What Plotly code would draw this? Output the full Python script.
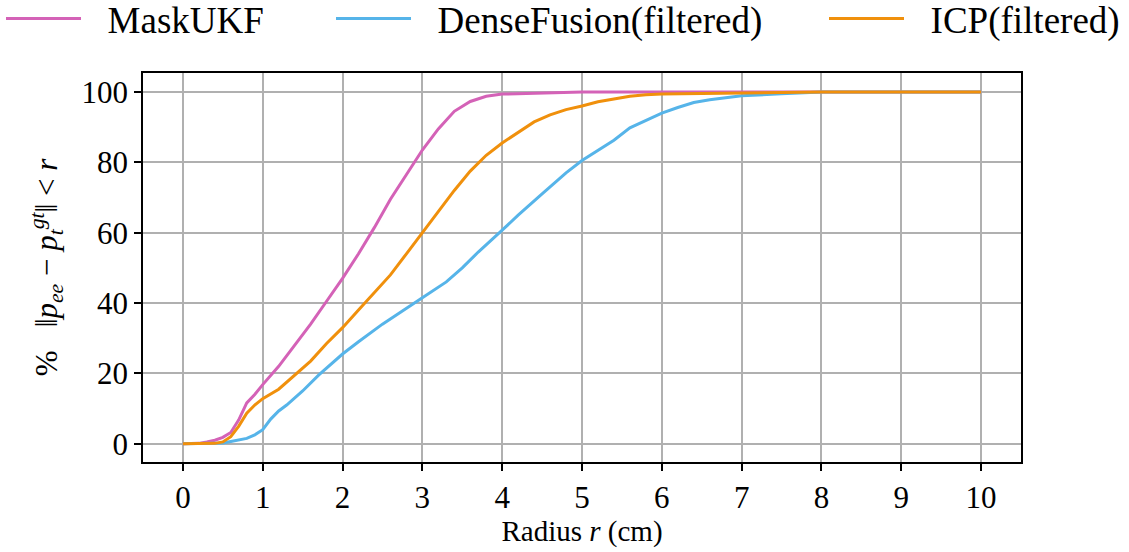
import plotly.graph_objects as go

# ---- data ----
mask_x = [0, 0.2, 0.3, 0.4, 0.5, 0.6, 0.7, 0.8, 0.9, 1.0, 1.2, 1.4, 1.6, 1.8, 2.0, 2.2, 2.4, 2.6, 2.8,
          3.0, 3.2, 3.4, 3.6, 3.8, 4.0, 4.5, 5.0, 6.0, 7.0, 8.0, 9.0, 10.0]
mask_y = [0, 0.1, 0.5, 1.0, 1.8, 3.2, 6.8, 11.6, 14.0, 16.8, 22, 28, 34, 40.5, 47, 54, 61.5, 69.5, 76.5,
          83.5, 89.5, 94.5, 97.3, 98.8, 99.4, 99.8, 100, 100, 100, 100, 100, 100]

dense_x = [0, 0.5, 0.6, 0.8, 0.9, 1.0, 1.1, 1.2, 1.3, 1.5, 1.7, 2.0, 2.2, 2.5, 3.0, 3.3, 3.5, 3.7, 4.0,
           4.2, 4.5, 4.8, 5.0, 5.2, 5.4, 5.6, 5.8, 6.0, 6.2, 6.4, 6.6, 6.8, 7.0, 7.5, 8.0, 9.0, 10.0]
dense_y = [0, 0.2, 0.6, 1.5, 2.5, 4.0, 7.0, 9.3, 11.0, 15.0, 19.5, 25.5, 29.0, 34.0, 41.5, 46.0, 50.0, 54.5, 60.7,
           65.0, 71.0, 77.0, 80.5, 83.5, 86.3, 89.8, 92.0, 94.0, 95.6, 97.0, 97.8, 98.4, 98.9, 99.5, 100, 100, 100]

icp_x = [0, 0.4, 0.5, 0.6, 0.7, 0.8, 0.9, 1.0, 1.2, 1.4, 1.6, 1.8, 2.0, 2.2, 2.4, 2.6, 2.8, 3.0, 3.2, 3.4,
         3.6, 3.8, 4.0, 4.2, 4.4, 4.6, 4.8, 5.0, 5.2, 5.4, 5.6, 5.8, 6.0, 6.5, 7.0, 7.5, 8.0, 9.0, 10.0]
icp_y = [0, 0.1, 0.5, 2.0, 5.0, 8.7, 11.0, 12.8, 15.5, 19.5, 23.5, 28.5, 33.0, 38.0, 43.0, 48.0, 54.0, 60.0, 66.0, 72.0,
         77.5, 82.0, 85.5, 88.5, 91.5, 93.5, 95.0, 96.0, 97.2, 98.0, 98.8, 99.2, 99.4, 99.6, 99.8, 100, 100, 100, 100]

x_ticks = list(range(0, 11))
y_ticks = [0, 20, 40, 60, 80, 100]

names = ["MaskUKF", "DenseFusion(filtered)", "ICP(filtered)"]
colors = ["#D462B7", "#56B4E9", "#F0900C"]

FONT = "Liberation Serif"
GAP = "\u2002\u200a"  # spacing between legend line and its label

fig = go.Figure()
series = [(mask_x, mask_y), (dense_x, dense_y), (icp_x, icp_y)]
legends = ["legend2", "legend3", "legend4"]
for (xs, ys), nm, col, lg in zip(series, names, colors, legends):
    fig.add_trace(go.Scatter(x=xs, y=ys, mode="lines", name=GAP + nm,
                             line=dict(color=col, width=3), legend=lg))

leg_common = dict(orientation="h", xref="container", yref="container",
                  yanchor="middle", y=1 - 19 / 552, xanchor="left",
                  bgcolor="rgba(0,0,0,0)", borderwidth=0, itemwidth=75,
                  font=dict(family=FONT, size=37, color="black"))
leg_x = [1 / 1129, 331 / 1129, 824 / 1129]

fig.update_layout(
    width=1129, height=552,
    margin=dict(l=143, r=108, t=73, b=90),
    plot_bgcolor="white", paper_bgcolor="white",
    font=dict(family=FONT, color="black"),
    showlegend=True,
    legend2=dict(**leg_common, x=leg_x[0]),
    legend3=dict(**leg_common, x=leg_x[1]),
    legend4=dict(**leg_common, x=leg_x[2]),
    xaxis=dict(range=[-0.5, 10.5], tickvals=x_ticks, ticktext=[str(v) for v in x_ticks],
               showgrid=True, gridcolor="#b0b0b0", gridwidth=2,
               showline=True, linecolor="black", linewidth=1.5, mirror=True,
               ticks="outside", ticklen=7, tickwidth=1.5, tickcolor="black",
               tickfont=dict(family=FONT, size=31), zeroline=False,
               title=dict(text="Radius <i>r</i> (cm)", font=dict(family=FONT, size=29), standoff=6)),
    yaxis=dict(range=[-5.2, 105.4], tickvals=y_ticks, ticktext=[str(v) for v in y_ticks],
               showgrid=True, gridcolor="#b0b0b0", gridwidth=2,
               showline=True, linecolor="black", linewidth=1.5, mirror=True,
               ticks="outside", ticklen=7, tickwidth=1.5, tickcolor="black",
               tickfont=dict(family=FONT, size=31), zeroline=False,
               title=dict(text="%   ‖<i>p</i><sub><i>ee</i></sub> − <i>p</i><sub><i>t</i></sub><sup><i>gt</i></sup>‖ &lt; <i>r</i>",
                          font=dict(family=FONT, size=31), standoff=15)),
)

fig.write_html("out.html")
